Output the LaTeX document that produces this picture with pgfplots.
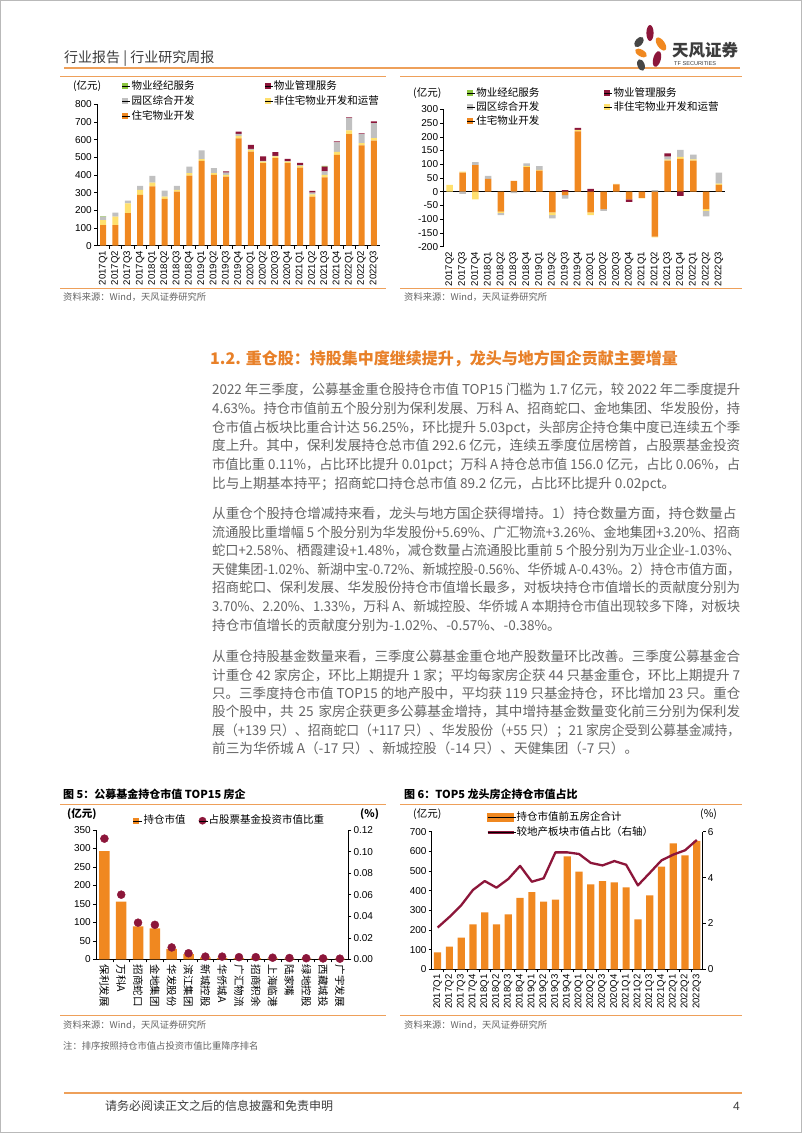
\documentclass[border=0pt]{standalone}
\usepackage{pgfplots}
\pgfplotsset{compat=1.18}
\usepackage{pgfplotstable}
\usepackage{graphicx}
\usepackage{fontspec}
\setmainfont{Noto Sans CJK SC}
\newfontfamily\tickfont{Liberation Sans}
\XeTeXlinebreaklocale "zh"
\XeTeXlinebreakskip=0pt plus 1.5pt

\definecolor{cOr}{RGB}{240,136,32}
\definecolor{cYe}{RGB}{255,224,110}
\definecolor{cGr}{RGB}{192,192,192}
\definecolor{cRd}{RGB}{140,22,58}
\definecolor{cGn}{RGB}{140,198,63}
\definecolor{cLine}{RGB}{238,160,90}
\definecolor{cHead}{RGB}{232,128,40}
\definecolor{cText}{RGB}{100,100,100}
\definecolor{cDark}{RGB}{60,60,60}
\definecolor{cLogoG}{RGB}{70,70,70}

\pgfplotstableread{
x or ye gr rd gn
0 117 28 19 0 3
1 117 47 23 0 0
2 185 55 15 0 0
3 287 29 22 0 0
4 335 22 38 0 0
5 265 13 34 0 0
6 306 10 22 0 0
7 397 13 38 0 0
8 480 10 49 0 0
9 401 9 29 0 0
10 391 10 13 6 0
11 607 15 11 13 0
12 533 9 6 23 0
13 467 9 4 25 0
14 495 10 3 21 0
15 467 9 2 13 0
16 442 10 4 13 0
17 278 13 9 10 0
18 387 14 20 27 4
19 514 17 53 6 0
20 631 21 70 4 0
21 567 13 51 4 0
22 594 15 85 9 0
}\dataA

\pgfplotstableread{
x or ye gr rd gn
0 0 25 0 0 0
1 70 3 0 0 0
2 97 0 11 0 0
3 47 0 11 0 0
4 0 0 0 0 0
5 40 0 0 0 0
6 90 3 10 0 0
7 77 3 13 0 0
8 0 0 0 0 0
9 0 0 0 6 0
10 220 5 0 7 0
11 0 0 0 10 0
12 0 0 0 0 0
13 27 2 0 0 0
14 0 0 0 0 0
15 0 0 0 0 0
16 0 0 6 0 0
17 113 4 11 12 0
18 120 7 25 0 0
19 113 5 17 0 0
20 0 0 0 0 0
21 25 5 40 0 0
}\dataBpos

\pgfplotstableread{
x or ye gr rd
0 0 0 0 0
1 0 0 -8 0
2 0 -28 0 0
3 0 0 0 0
4 -72 -5 -8 0
5 0 0 -5 0
6 0 0 0 0
7 0 0 0 0
8 -75 -10 -12 0
9 -12 0 -13 0
10 0 0 0 0
11 -75 -10 0 0
12 -63 0 -7 0
13 0 0 0 0
14 -28 0 0 -9
15 -22 -2 0 0
16 -163 -3 0 0
17 0 0 0 0
18 0 0 0 -15
19 0 0 0 0
20 -63 -7 -20 0
21 0 0 0 0
}\dataBneg

\pgfplotstableread{
x v p
0 292.6 0.112
1 156.0 0.060
2 89.2 0.034
3 84 0.032
4 28 0.011
5 14 0.0056
6 5 0.0025
7 4 0.0025
8 3.5 0.002
9 3 0.002
10 2.5 0.0015
11 2.2 0.0012
12 2 0.0010
13 1.8 0.0008
14 1.7 0.0006
}\dataE

\pgfplotstableread{
x v p
0 86 1.82
1 115 2.28
2 161 2.79
3 229 3.46
4 290 3.85
5 229 3.56
6 280 3.94
7 363 4.51
8 393 3.82
9 344 3.97
10 354 5.10
11 575 5.10
12 497 5.03
13 432 4.64
14 449 4.53
15 442 4.72
16 417 4.56
17 254 3.66
18 376 4.20
19 522 4.75
20 641 5.00
21 580 5.19
22 653 5.64
}\dataF

\pgfplotsset{
  base/.style={
    scale only axis, anchor=south west, clip=false,
    axis line style={black, line width=0.6pt},
    tick style={black, line width=0.5pt},
    tick align=outside, major tick length=3pt, minor tick length=3pt,
    /pgf/number format/assume math mode=true,
    scaled y ticks=false,
    yticklabel style={font=\tickfont\fontsize{10}{12}\selectfont, inner sep=2pt},
    xticklabel style={font=\tickfont\fontsize{9.6}{12}\selectfont, inner sep=2pt},
  },
  legax/.style={
    hide axis, scale only axis, anchor=south west, at={(0pt,-1133pt)},
    width=802pt, height=1133pt, xmin=0, xmax=1, ymin=0, ymax=1,
    legend cell align=left,
  },
}

\def\qA{2017Q1,2017Q2,2017Q3,2017Q4,2018Q1,2018Q2,2018Q3,2018Q4,2019Q1,2019Q2,2019Q3,2019Q4,2020Q1,2020Q2,2020Q3,2020Q4,2021Q1,2021Q2,2021Q3,2021Q4,2022Q1,2022Q2,2022Q3}
\def\qB{2017Q2,2017Q3,2017Q4,2018Q1,2018Q2,2018Q3,2018Q4,2019Q1,2019Q2,2019Q3,2019Q4,2020Q1,2020Q2,2020Q3,2020Q4,2021Q1,2021Q2,2021Q3,2021Q4,2022Q1,2022Q2,2022Q3}

\newsavebox\lb
\newcommand\bodyline[2]{\node[anchor=base west,inner sep=0pt,text=cText] at (212,#1) {\fontsize{13.6}{16}\selectfont\sbox\lb{#2}\ifdim\wd\lb>528pt\relax\resizebox{528pt}{\height}{\usebox\lb}\else\hbox to 528pt{#2}\fi};}
\newcommand\bodylast[2]{\node[anchor=base west,inner sep=0pt,text=cText] at (212,#1) {\fontsize{13.6}{16}\selectfont #2};}

\begin{document}
\begin{tikzpicture}
\path[use as bounding box] (0pt,0pt) rectangle (802pt,-1133pt);
\fill[white] (0pt,0pt) rectangle (802pt,-1133pt);

\begin{scope}[x=1pt,y=-1pt]
\draw[gray!55, line width=1.2pt] (0.6,0.6) rectangle (801.4,1132.4);
% header
\node[anchor=base west,inner sep=0pt,text=cDark] at (64,62.5) {\fontsize{14}{16}\selectfont 行业报告 | 行业研究周报};
\draw[cLine, line width=1.6pt] (64,68) -- (740,68);
% logo
\fill[cRd] (650,33) ellipse (3.6 and 8);
\fill[cOr, rotate around={35:(661,44)}] (661,44) ellipse (3.8 and 7.5);
\fill[cLogoG, rotate around={-40:(639,42)}] (639,42) ellipse (3.6 and 6);
\fill[cOr, rotate around={60:(641,53)}] (641,53) ellipse (3.4 and 6.5);
\fill[cRd, rotate around={-15:(657,59)}] (657,59) ellipse (3.8 and 8);
\fill[cLogoG, rotate around={20:(641,65)}] (641,65) ellipse (3.6 and 6);
\node[anchor=base west,inner sep=0pt,text=cDark] at (672,56.5) {\fontsize{16.5}{18}\selectfont\bfseries 天风证券};
\node[anchor=base west,inner sep=0pt,text=cDark] at (674,65) {\tickfont\fontsize{5.6}{6}\selectfont TF SECURITIES};

% chart frames top
\draw[cLine, line width=0.9pt] (60,76) -- (386,76);
\draw[cLine, line width=0.9pt] (400,76) -- (742,76);
\draw[cLine, line width=0.9pt] (60,288) -- (386,288);
\draw[cLine, line width=0.9pt] (400,288) -- (742,288);
\node[anchor=base west,inner sep=0pt,text=cText] at (63,300.5) {\fontsize{9.3}{11}\selectfont 资料来源：Wind，天风证券研究所};
\node[anchor=base west,inner sep=0pt,text=cText] at (404,300.5) {\fontsize{9.3}{11}\selectfont 资料来源：Wind，天风证券研究所};
\node[anchor=base west,inner sep=0pt,text=black] at (73,89.7) {\fontsize{10.5}{12}\selectfont (亿元)};
\node[anchor=base west,inner sep=0pt,text=black] at (413,96.7) {\fontsize{10.5}{12}\selectfont (亿元)};

% heading
\node[anchor=base west,inner sep=0pt,text=cHead] at (210,364) {\fontsize{16}{18}\selectfont\bfseries 1.2. 重仓股：持股集中度继续提升，龙头与地方国企贡献主要增量};

\bodyline{394.9}{2022 年三季度，公募基金重仓股持仓市值 TOP15 门槛为 1.7 亿元，较 2022 年二季度提升}
\bodyline{413.5}{4.63\%。持仓市值前五个股分别为保利发展、万科 A、招商蛇口、金地集团、华发股份，持}
\bodyline{432.2}{仓市值占板块比重合计达 56.25\%，环比提升 5.03pct，头部房企持仓集中度已连续五个季}
\bodyline{450.8}{度上升。其中，保利发展持仓总市值 292.6 亿元，连续五季度位居榜首，占股票基金投资}
\bodyline{469.5}{市值比重 0.11\%，占比环比提升 0.01pct；万科 A 持仓总市值 156.0 亿元，占比 0.06\%，占}
\bodylast{488.2}{比与上期基本持平；招商蛇口持仓总市值 89.2 亿元，占比环比提升 0.02pct。}

\bodyline{518.5}{从重仓个股持仓增减持来看，龙头与地方国企获得增持。1）持仓数量方面，持仓数量占}
\bodyline{537.1}{流通股比重增幅 5 个股分别为华发股份+5.69\%、广汇物流+3.26\%、金地集团+3.20\%、招商}
\bodyline{555.7}{蛇口+2.58\%、栖霞建设+1.48\%，减仓数量占流通股比重前 5 个股分别为万业企业-1.03\%、}
\bodyline{574.3}{天健集团-1.02\%、新湖中宝-0.72\%、新城控股-0.56\%、华侨城 A-0.43\%。2）持仓市值方面，}
\bodyline{592.9}{招商蛇口、保利发展、华发股份持仓市值增长最多，对板块持仓市值增长的贡献度分别为}
\bodyline{611.5}{3.70\%、2.20\%、1.33\%，万科 A、新城控股、华侨城 A 本期持仓市值出现较多下降，对板块}
\bodylast{630.1}{持仓市值增长的贡献度分别为-1.02\%、-0.57\%、-0.38\%。}

\bodyline{661.9}{从重仓持股基金数量来看，三季度公募基金重仓地产股数量环比改善。三季度公募基金合}
\bodyline{680.2}{计重仓 42 家房企，环比上期提升 1 家；平均每家房企获 44 只基金重仓，环比上期提升 7}
\bodyline{698.6}{只。三季度持仓市值 TOP15 的地产股中，平均获 119 只基金持仓，环比增加 23 只。重仓}
\bodyline{716.9}{股个股中，共 25 家房企获更多公募基金增持，其中增持基金数量变化前三分别为保利发}
\bodyline{735.3}{展（+139 只）、招商蛇口（+117 只）、华发股份（+55 只）；21 家房企受到公募基金减持，}
\bodylast{753.6}{前三为华侨城 A（-17 只）、新城控股（-14 只）、天健集团（-7 只）。}

% bottom charts titles
\node[anchor=base west,inner sep=0pt,text=black] at (63,798) {\fontsize{11}{13}\selectfont\bfseries 图 5：公募基金持仓市值 TOP15 房企};
\node[anchor=base west,inner sep=0pt,text=black] at (404,798) {\fontsize{11}{13}\selectfont\bfseries 图 6：TOP5 龙头房企持仓市值占比};
\draw[cLine, line width=0.9pt] (60,804) -- (386,804);
\draw[cLine, line width=0.9pt] (400,804) -- (742,804);
\draw[cLine, line width=0.9pt] (60,1015) -- (386,1015);
\draw[cLine, line width=0.9pt] (400,1015) -- (742,1015);
\node[anchor=base west,inner sep=0pt,text=black] at (67,817) {\fontsize{10.5}{12}\selectfont\bfseries (亿元)};
\node[anchor=base west,inner sep=0pt,text=black] at (360,817) {\fontsize{10.5}{12}\selectfont\bfseries (\%)};
\node[anchor=base west,inner sep=0pt,text=black] at (413,817) {\fontsize{10.5}{12}\selectfont (亿元)};
\node[anchor=base west,inner sep=0pt,text=black] at (700,817) {\fontsize{10.5}{12}\selectfont (\%)};
\node[anchor=base west,inner sep=0pt,text=cText] at (63,1028.5) {\fontsize{9.3}{11}\selectfont 资料来源：Wind，天风证券研究所};
\node[anchor=base west,inner sep=0pt,text=cText] at (404,1028.5) {\fontsize{9.3}{11}\selectfont 资料来源：Wind，天风证券研究所};
\node[anchor=base west,inner sep=0pt,text=cText] at (63,1049.5) {\fontsize{9.3}{11}\selectfont 注：排序按照持仓市值占投资市值比重降序排名};

% footer
\draw[cLine, line width=2pt] (64,1093) -- (742,1093);
\node[anchor=base west,inner sep=0pt,text=cDark] at (105,1110.5) {\fontsize{12}{14}\selectfont 请务必阅读正文之后的信息披露和免责申明};
\node[anchor=base west,inner sep=0pt,text=cDark] at (733,1110.5) {\tickfont\fontsize{12}{14}\selectfont 4};
\end{scope}

% ---------- Chart 1 ----------
\begin{axis}[base, at={(97pt,-245.7pt)}, width=283pt, height=141.4pt,
  ybar stacked, bar width=6pt,
  xmin=-0.5, xmax=22.5, ymin=0, ymax=800, ytick={0,100,...,800},
  axis lines*=left,
  xtick={0,...,22}, xticklabels/.expand once=\qA,
  xticklabel style={rotate=90, anchor=east},
  minor x tick num=1, major x tick style={draw=none}]
\addplot[fill=cOr, draw=none] table[x=x,y=or]{\dataA};
\addplot[fill=cYe, draw=none] table[x=x,y=ye]{\dataA};
\addplot[fill=cGr, draw=none] table[x=x,y=gr]{\dataA};
\addplot[fill=cRd, draw=none] table[x=x,y=rd]{\dataA};
\addplot[fill=cGn, draw=none] table[x=x,y=gn]{\dataA};
\end{axis}
\begin{axis}[legax, legend columns=2,
  legend style={draw=none, fill=none, inner sep=0pt, at={(0.1521,0.92983)}, anchor=north west,
    font=\fontsize{10.5}{12}\selectfont, nodes={inner sep=1pt, text height=8.5pt, text depth=2pt},
    row sep=2.5pt, /tikz/every even column/.append style={column sep=69pt}}]
\addlegendimage{legend image code/.code={\fill[cGn] (0pt,-2.6pt) rectangle (5.2pt,2.6pt); \path (0pt,0pt) -- (8pt,0pt);}}
\addlegendentry{物业经纪服务}
\addlegendimage{legend image code/.code={\fill[cRd] (0pt,-2.6pt) rectangle (5.2pt,2.6pt); \path (0pt,0pt) -- (8pt,0pt);}}
\addlegendentry{物业管理服务}
\addlegendimage{legend image code/.code={\fill[cGr] (0pt,-2.6pt) rectangle (5.2pt,2.6pt); \path (0pt,0pt) -- (8pt,0pt);}}
\addlegendentry{园区综合开发}
\addlegendimage{legend image code/.code={\fill[cYe] (0pt,-2.6pt) rectangle (5.2pt,2.6pt); \path (0pt,0pt) -- (8pt,0pt);}}
\addlegendentry{非住宅物业开发和运营}
\addlegendimage{legend image code/.code={\fill[cOr] (0pt,-2.6pt) rectangle (5.2pt,2.6pt); \path (0pt,0pt) -- (8pt,0pt);}}
\addlegendentry{住宅物业开发}
\end{axis}

% ---------- Chart 2 ----------
\begin{axis}[base, at={(443.3pt,-246.7pt)}, width=282pt, height=137.4pt,
  ybar stacked, bar width=6.5pt,
  xmin=-0.5, xmax=21.5, ymin=-200, ymax=300, ytick={-200,-150,...,300},
  axis y line*=left, axis x line*=bottom, x axis line style={draw=none},
  xtick={0,...,21}, xticklabels/.expand once=\qB,
  xticklabel style={rotate=90, anchor=east},
  major x tick style={draw=none},
  extra y ticks={0}, extra y tick labels={},
  extra y tick style={grid=major, major grid style={black, line width=0.6pt}}]
\addplot[fill=cOr, draw=none] table[x=x,y=or]{\dataBpos};
\addplot[fill=cYe, draw=none] table[x=x,y=ye]{\dataBpos};
\addplot[fill=cGr, draw=none] table[x=x,y=gr]{\dataBpos};
\addplot[fill=cRd, draw=none] table[x=x,y=rd]{\dataBpos};
\addplot[fill=cGn, draw=none] table[x=x,y=gn]{\dataBpos};
\end{axis}
\begin{axis}[base, at={(443.3pt,-246.7pt)}, width=282pt, height=137.4pt,
  ybar stacked, bar width=6.5pt, hide axis,
  xmin=-0.5, xmax=21.5, ymin=-200, ymax=300]
\addplot[fill=cOr, draw=none] table[x=x,y=or]{\dataBneg};
\addplot[fill=cYe, draw=none] table[x=x,y=ye]{\dataBneg};
\addplot[fill=cGr, draw=none] table[x=x,y=gr]{\dataBneg};
\addplot[fill=cRd, draw=none] table[x=x,y=rd]{\dataBneg};
\end{axis}
\begin{axis}[legax, legend columns=2,
  legend style={draw=none, fill=none, inner sep=0pt, at={(0.5819,0.92365)}, anchor=north west,
    font=\fontsize{10.5}{12}\selectfont, nodes={inner sep=1pt, text height=8.5pt, text depth=2pt},
    row sep=1.5pt, /tikz/every even column/.append style={column sep=64pt}}]
\addlegendimage{legend image code/.code={\fill[cGn] (0pt,-2.6pt) rectangle (5.2pt,2.6pt); \path (0pt,0pt) -- (8pt,0pt);}}
\addlegendentry{物业经纪服务}
\addlegendimage{legend image code/.code={\fill[cRd] (0pt,-2.6pt) rectangle (5.2pt,2.6pt); \path (0pt,0pt) -- (8pt,0pt);}}
\addlegendentry{物业管理服务}
\addlegendimage{legend image code/.code={\fill[cGr] (0pt,-2.6pt) rectangle (5.2pt,2.6pt); \path (0pt,0pt) -- (8pt,0pt);}}
\addlegendentry{园区综合开发}
\addlegendimage{legend image code/.code={\fill[cYe] (0pt,-2.6pt) rectangle (5.2pt,2.6pt); \path (0pt,0pt) -- (8pt,0pt);}}
\addlegendentry{非住宅物业开发和运营}
\addlegendimage{legend image code/.code={\fill[cOr] (0pt,-2.6pt) rectangle (5.2pt,2.6pt); \path (0pt,0pt) -- (8pt,0pt);}}
\addlegendentry{住宅物业开发}
\end{axis}

% ---------- Chart 5 ----------
\begin{axis}[base, at={(96pt,-959.3pt)}, width=252.3pt, height=129.3pt,
  ybar, bar width=10.5pt,
  xmin=-0.5, xmax=14.5, ymin=0, ymax=350, ytick={0,50,...,350},
  axis y line*=left, axis x line*=bottom,
  xtick={0,...,14},
  xticklabels={保利发展,万科A,招商蛇口,金地集团,华发股份,滨江集团,新城控股,华侨城A,广汇物流,招商积余,上海临港,陆家嘴,绿地控股,西藏城投,广宇发展},
  xticklabel style={rotate=-90, anchor=west, font=\fontsize{10.5}{12}\selectfont},
  minor x tick num=1, major x tick style={draw=none}]
\addplot[fill=cOr, draw=none] table[x=x,y=v]{\dataE};
\end{axis}
\begin{axis}[base, at={(96pt,-959.3pt)}, width=252.3pt, height=129.3pt,
  xmin=-0.5, xmax=14.5, ymin=0, ymax=0.12,
  ytick={0,0.02,0.04,0.06,0.08,0.1,0.12},
  axis y line*=right, axis x line=none,
  yticklabel style={/pgf/number format/.cd, fixed, fixed zerofill, precision=2}]
\addplot[only marks, mark=*, mark size=4pt, color=cRd] table[x=x,y=p]{\dataE};
\end{axis}
\begin{axis}[legax, legend columns=2,
  legend style={draw=none, fill=none, inner sep=0pt, at={(0.16584,0.27564)}, anchor=west,
    font=\fontsize{10.5}{12}\selectfont, nodes={inner sep=1pt, text height=8.5pt, text depth=2pt},
    /tikz/every even column/.append style={column sep=11.7pt}}]
\addlegendimage{legend image code/.code={\fill[cOr] (0pt,-2.3pt) rectangle (4.6pt,2.3pt); \path (0pt,0pt) -- (9pt,0pt);}}
\addlegendentry{持仓市值}
\addlegendimage{legend image code/.code={\fill[cRd] (4pt,0pt) circle (3.6pt); \path (0pt,0pt) -- (9pt,0pt);}}
\addlegendentry{占股票基金投资市值比重}
\end{axis}

% ---------- Chart 6 ----------
\begin{axis}[base, at={(431.7pt,-969.3pt)}, width=271pt, height=137.6pt,
  ybar, bar width=7.2pt,
  xmin=-0.5, xmax=22.5, ymin=0, ymax=700, ytick={0,100,...,700},
  axis y line*=left, axis x line*=bottom,
  xtick={0,...,22}, xticklabels/.expand once=\qA,
  xticklabel style={rotate=90, anchor=east},
  minor x tick num=1, major x tick style={draw=none}]
\addplot[fill=cOr, draw=none] table[x=x,y=v]{\dataF};
\end{axis}
\begin{axis}[base, at={(431.7pt,-969.3pt)}, width=271pt, height=137.6pt,
  xmin=-0.5, xmax=22.5, ymin=0, ymax=6, ytick={0,2,4,6},
  axis y line*=right, axis x line=none]
\addplot[cRd, line width=2.3pt, mark=none, line join=round] table[x=x,y=p]{\dataF};
\end{axis}
\begin{axis}[legax, legend columns=1,
  legend style={draw=none, fill=none, inner sep=0pt, at={(0.60599,0.28464)}, anchor=north west,
    font=\fontsize{10.5}{12}\selectfont, nodes={inner sep=1pt, text height=8.5pt, text depth=2pt},
    row sep=3.1pt}]
\addlegendimage{legend image code/.code={\fill[cOr] (0pt,-4pt) rectangle (26pt,4pt); \path (0pt,0pt) -- (28pt,0pt);}}
\addlegendentry{持仓市值前五房企合计}
\addlegendimage{legend image code/.code={\draw[cRd, line width=2.6pt] (0pt,0pt) -- (26pt,0pt); \path (0pt,0pt) -- (28pt,0pt);}}
\addlegendentry{较地产板块市值占比（右轴）}
\end{axis}
\end{tikzpicture}
\end{document}
